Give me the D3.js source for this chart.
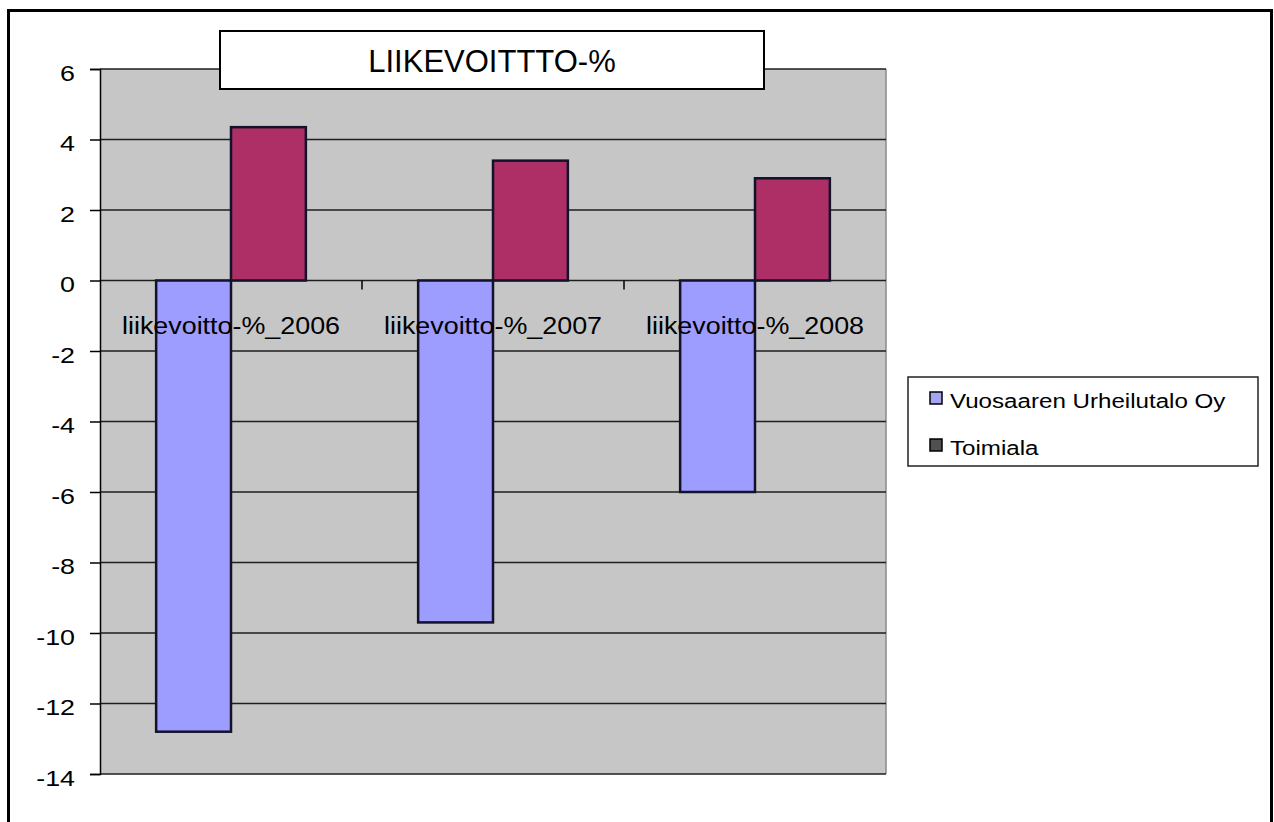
<!DOCTYPE html>
<html>
<head>
<meta charset="utf-8">
<script src="https://cdn.jsdelivr.net/npm/d3@7"></script>
<style>
  html, body { margin: 0; padding: 0; background: #ffffff; }
  svg { display: block; }
  text { font-family: "Liberation Sans", Arial, sans-serif; fill: #000; }
</style>
</head>
<body>
<svg id="chart" width="1274" height="822"></svg>
<script>
// ---- data ----
const categories = ["liikevoitto-%_2006", "liikevoitto-%_2007", "liikevoitto-%_2008"];
const seriesNames = ["Vuosaaren Urheilutalo Oy", "Toimiala"];
const vuosaariValues = [-12.8, -9.7, -6.0];
const toimialaValues = [4.35, 3.4, 2.9];
const yTicks = [6, 4, 2, 0, -2, -4, -6, -8, -10, -12, -14];
const titleText = "LIIKEVOITTTO-%";

// ---- layout ----
const plot = { left: 100, right: 886, top: 69, bottom: 774 };
const colors = ["#9d9dff", "#ad2f65"];
const legendMarkerColors = ["#a4a4f4", "#505050"];

const svg = d3.select("#chart");

// outer border
svg.append("rect").attr("x", 8.5).attr("y", 10.5).attr("width", 1263).attr("height", 830)
  .attr("fill", "#fff").attr("stroke", "#000").attr("stroke-width", 3);

const y = d3.scaleLinear().domain([-14, 6]).range([plot.bottom, plot.top]);
const x0 = d3.scaleBand().domain(categories).range([plot.left, plot.right]).paddingInner(0).paddingOuter(0);
const x1 = d3.scaleBand().domain(seriesNames).range([0, x0.bandwidth()]).paddingInner(0).paddingOuter(0.75);

// plot background
svg.append("rect").attr("x", plot.left).attr("y", plot.top)
  .attr("width", plot.right - plot.left).attr("height", plot.bottom - plot.top)
  .attr("fill", "#c6c6c6");
svg.append("line").attr("x1", plot.right).attr("x2", plot.right)
  .attr("y1", plot.top).attr("y2", plot.bottom).attr("stroke", "#8a8a8a").attr("stroke-width", 1.5);

// gridlines
svg.append("g").selectAll("line").data(yTicks).join("line")
  .attr("x1", plot.left).attr("x2", plot.right)
  .attr("y1", d => y(d)).attr("y2", d => y(d))
  .attr("stroke", "#1e1e1e").attr("stroke-width", 1.5);

// y axis
const yAxis = d3.axisLeft(y).tickValues(yTicks).tickSize(10).tickPadding(0).tickFormat(d3.format("d"));
const yg = svg.append("g").attr("transform", `translate(${plot.left},0)`).call(yAxis);
yg.select(".domain").attr("stroke", "#000").attr("stroke-width", 1.5);
yg.selectAll(".tick line").attr("stroke", "#000").attr("stroke-width", 1.5);
yg.selectAll(".tick text")
  .attr("x", 0).attr("dy", null).attr("y", 0)
  .attr("font-size", 22).attr("text-anchor", "end")
  .attr("font-family", "Liberation Sans, Arial, sans-serif")
  .attr("transform", "translate(-25,11) scale(1.22,1)")
  .text(d => d < 0 ? "-" + Math.abs(d) : String(d));

// category ticks on zero line (band boundaries)
svg.append("g").selectAll("line").data(categories.slice(1)).join("line")
  .attr("x1", d => x0(d)).attr("x2", d => x0(d))
  .attr("y1", y(0)).attr("y2", y(0) + 9)
  .attr("stroke", "#000").attr("stroke-width", 1.5);

// bars
const rows = categories.map((c, i) => ({ cat: c, vals: [vuosaariValues[i], toimialaValues[i]] }));
const groups = svg.append("g").selectAll("g").data(rows).join("g")
  .attr("transform", d => `translate(${x0(d.cat)},0)`);
groups.selectAll("rect").data(d => d.vals.map((v, j) => ({ s: seriesNames[j], v, j })))
  .join("rect")
  .attr("x", d => x1(d.s))
  .attr("width", x1.bandwidth())
  .attr("y", d => y(Math.max(0, d.v)))
  .attr("height", d => Math.abs(y(d.v) - y(0)))
  .attr("fill", d => colors[d.j])
  .attr("stroke", "#12122a").attr("stroke-width", 2.5);

// category labels (drawn over bars)
svg.append("g").selectAll("g").data(categories).join("g")
  .attr("transform", d => `translate(${x0(d) + x0.bandwidth() / 2},334) scale(1.12,1)`)
  .append("text").attr("text-anchor", "middle").attr("font-size", 24).text(d => d);

// title box
const tb = { x: 220, y: 31, w: 544, h: 58 };
svg.append("rect").attr("x", tb.x).attr("y", tb.y).attr("width", tb.w).attr("height", tb.h)
  .attr("fill", "#fff").attr("stroke", "#000").attr("stroke-width", 2);
svg.append("text").attr("x", tb.x + tb.w / 2).attr("y", 72).attr("text-anchor", "middle")
  .attr("font-size", 31).text(titleText);

// legend
const lg = { x: 908, y: 377, w: 350, h: 89 };
svg.append("rect").attr("x", lg.x).attr("y", lg.y).attr("width", lg.w).attr("height", lg.h)
  .attr("fill", "#fff").attr("stroke", "#222").attr("stroke-width", 1.5);
const li = svg.append("g").selectAll("g").data(seriesNames).join("g")
  .attr("transform", (d, i) => `translate(930,${392 + i * 47})`);
li.append("rect").attr("width", 12).attr("height", 12)
  .attr("fill", (d, i) => legendMarkerColors[i]).attr("stroke", "#000").attr("stroke-width", 1.5);
li.append("g").attr("transform", "translate(20,16) scale(1.15,1)")
  .append("text").attr("font-size", 21).text(d => d);
</script>
</body>
</html>
